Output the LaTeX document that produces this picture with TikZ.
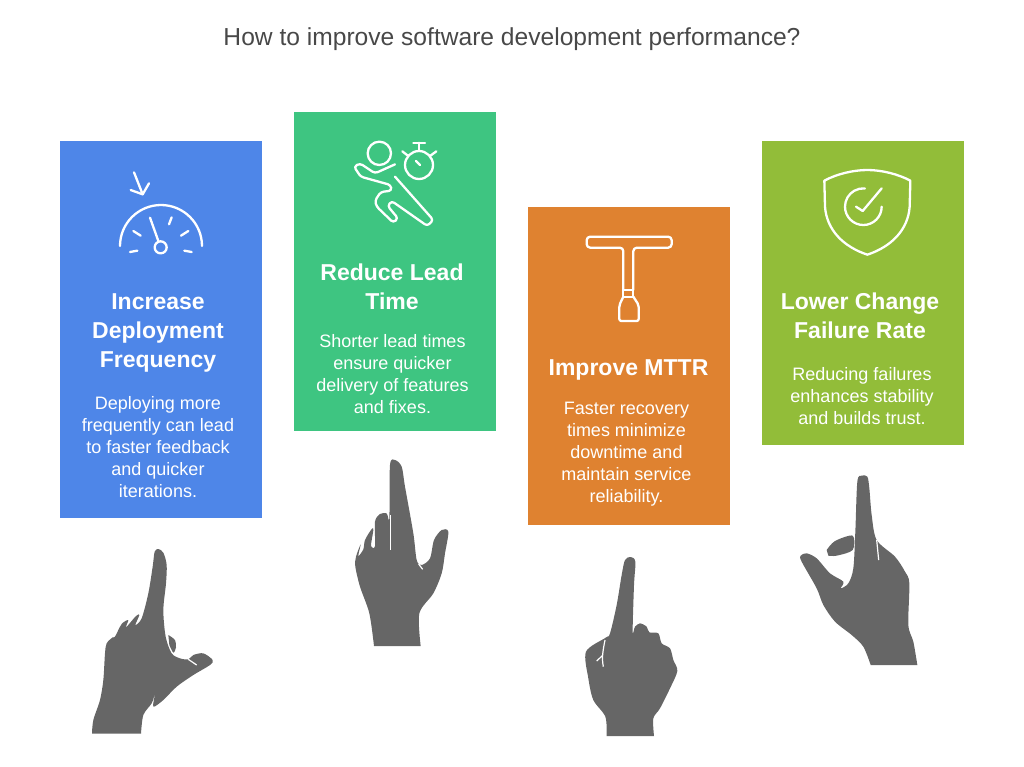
\documentclass[tikz,border=0pt]{standalone}
\usepackage{fontspec}
\setmainfont{Liberation Sans}
\definecolor{blueCard}{HTML}{4E86E8}
\definecolor{greenCard}{HTML}{3EC581}
\definecolor{orangeCard}{HTML}{DF8230}
\definecolor{limeCard}{HTML}{92BD39}
\definecolor{handGray}{HTML}{666666}
\definecolor{titleGray}{HTML}{484848}
\begin{document}
\begin{tikzpicture}[x=1pt,y=-1pt]
\tikzstyle{every node}+=[inner sep=0pt]
\tikzstyle{card}=[minimum width=202pt]
\tikzstyle{head}=[text=white,align=center,font=\fontsize{23}{29}\selectfont\bfseries]
\tikzstyle{body}=[text=white,align=center,font=\fontsize{18}{22}\selectfont]
\tikzstyle{icon}=[white,line width=2.3pt,line cap=round,line join=round]
\tikzstyle{hand}=[fill=handGray]
\tikzstyle{slit}=[white,line width=1.2pt]
\useasboundingbox (0,0) rectangle (1024,766);
\node [text=titleGray,font=\fontsize{24.6}{30}\selectfont] (title) at (512,39.5) {How to improve software development performance?};
\node [card,fill=blueCard,minimum height=377pt] (deploy) at (161,329.5) {};
\node [card,fill=greenCard,minimum height=319pt] (lead) at (395,271.5) {};
\node [card,fill=orangeCard,minimum height=318pt] (mttr) at (629,366) {};
\node [card,fill=limeCard,minimum height=304pt] (change) at (863,293) {};
\node [head] (deployhead) at (158,333) {Increase\\Deployment\\Frequency};
\node [body] (deploybody) at (158,447) {Deploying more\\frequently can lead\\to faster feedback\\and quicker\\iterations.};
\node [head] (leadhead) at (392,286.5) {Reduce Lead\\Time};
\node [body] (leadbody) at (392.5,374) {Shorter lead times\\ensure quicker\\delivery of features\\and fixes.};
\node [head] (mttrhead) at (628.5,370) {Improve MTTR};
\node [body] (mttrbody) at (626.5,454) {Faster recovery\\times minimize\\downtime and\\maintain service\\reliability.};
\node [head] (changehead) at (860,315.5) {Lower Change\\Failure Rate};
\node [body] (changebody) at (862,396) {Reducing failures\\enhances stability\\and builds trust.};
\begin{scope}[shift={(100,160)},scale=1/3]
\draw [icon] (60,258) arc (180:360:123);
\draw [icon] (182,262) circle (18);
\draw [icon] (150,173) -- (175,243);
\draw [icon] (100,213) -- (122,227);
\draw [icon] (215,172) -- (207,193);
\draw [icon] (265,213) -- (243,227);
\draw [icon] (90,276) -- (112,272);
\draw [icon] (253,272) -- (275,276);
\draw [icon] (102,37) -- (128,103);
\draw [icon] (92,90) -- (128,103) -- (147,70);
\end{scope}
\begin{scope}[shift={(340,130)},scale=1/3]
\draw [icon] (118,70) circle (35);
\draw [icon,rounded corners=3pt] (165,103) -- (105,130) -- (60,100) -- (42,110) -- (62,140) -- (152,165) -- (155,182) -- (122,186) -- (105,212) -- (110,230) -- (160,278) -- (174,265) -- (143,228) -- (155,213) -- (262,288) -- (280,270) -- (165,140);
\draw [icon] (237,105) circle (42);
\draw [icon] (237,63) -- (237,38);
\draw [icon] (220,38) -- (255,38);
\draw [icon] (187,64) -- (205,78);
\draw [icon] (289,64) -- (270,78);
\draw [icon] (228,93) -- (240,105);
\end{scope}
\begin{scope}[shift={(570,225)},scale=1/3]
\draw [icon,rounded corners=3.5pt] (160,195) -- (160,68) -- (50,68) -- (50,35) -- (305,35) -- (305,68) -- (190,68) -- (190,195);
\draw [icon] (160,195) rectangle (190,215);
\draw [icon,rounded corners=2pt] (160,215) -- (148,240) -- (148,288) -- (206,288) -- (206,240) -- (190,215);
\end{scope}
\begin{scope}[shift={(810,160)},scale=1/3]
\draw [icon] (172,30) .. controls (130,30) and (80,42) .. (43,62) -- (45,140) .. controls (50,210) and (100,260) .. (172,284) .. controls (244,260) and (294,210) .. (299,140) -- (301,62) .. controls (264,42) and (214,30) .. (172,30) -- cycle;
\draw [icon] (215,140) arc (0:275:55);
\draw [icon] (138,140) -- (158,153) -- (215,85);
\end{scope}
\begin{scope}[shift={(60,540)},scale=1/3]
\fill [hand] plot [smooth,tension=.5] coordinates {(96,581) (100,540) (120,480) (130,420) (135,340) (140,310) (158,292) (165,290) (185,252) (205,240) (198,262) (228,228) (238,225) (226,255) (245,235) (265,160) (278,80) (284,35) (295,27) (310,38) (320,75) (318,130) (310,210) (317,290) (335,340) (360,355) (385,358) (400,345) (430,340) (458,360) (450,375) (400,405) (350,440) (310,480) (280,500) (285,462) (275,490) (250,525) (243,581)} -- cycle;
\fill [hand] plot [smooth,tension=.5] coordinates {(325,285) (345,300) (348,322) (340,338) (328,315)} -- cycle;
\draw [slit] (385,358) -- (410,375);
\end{scope}
\begin{scope}[shift={(330,450)},scale=1/3]
\fill [hand] plot [smooth,tension=.5] coordinates {(132,588) (118,490) (90,410) (76,350) (78,320) (92,283) (85,318) (100,298) (105,270) (125,237) (130,240) (123,288) (135,288) (135,215) (150,192) (170,190) (178,205) (180,45) (195,30) (215,50) (225,110) (250,250) (260,330) (275,345) (300,325) (312,270) (335,240) (355,245) (345,310) (335,370) (310,430) (268,490) (272,588)} -- cycle;
\draw [slit] (182,195) -- (182,300);
\draw [slit] (266,342) -- (278,358);
\end{scope}
\begin{scope}[shift={(560,545)},scale=1/3]
\fill [hand] plot [smooth,tension=.5] coordinates {(140,573) (136,515) (100,465) (85,400) (78,320) (137,278) (150,265) (170,180) (185,90) (195,45) (212,36) (226,50) (222,120) (218,260) (225,245) (240,235) (260,245) (268,262) (295,265) (305,295) (330,310) (340,345) (352,378) (330,430) (300,490) (280,520) (282,573)} -- cycle;
\draw [slit] (135,285) .. controls (128,320) and (125,340) .. (130,365);
\draw [slit] (127,332) -- (110,348);
\end{scope}
\begin{scope}[shift={(780,465)},scale=1/3]
\fill [hand] plot [smooth,tension=.5] coordinates {(272,600) (250,545) (215,510) (165,470) (130,420) (110,370) (65,290) (62,272) (80,265) (110,280) (150,325) (190,350) (182,370) (205,355) (220,310) (226,200) (232,50) (245,32) (262,35) (268,70) (275,150) (290,225) (345,275) (375,320) (388,355) (385,480) (400,530) (412,600)} -- cycle;
\fill [hand] plot [smooth,tension=.5] coordinates {(140,255) (165,228) (218,212) (218,255) (170,272) (145,272)} -- cycle;
\draw [slit] (290,225) -- (296,285);
\end{scope}
\end{tikzpicture}
\end{document}
